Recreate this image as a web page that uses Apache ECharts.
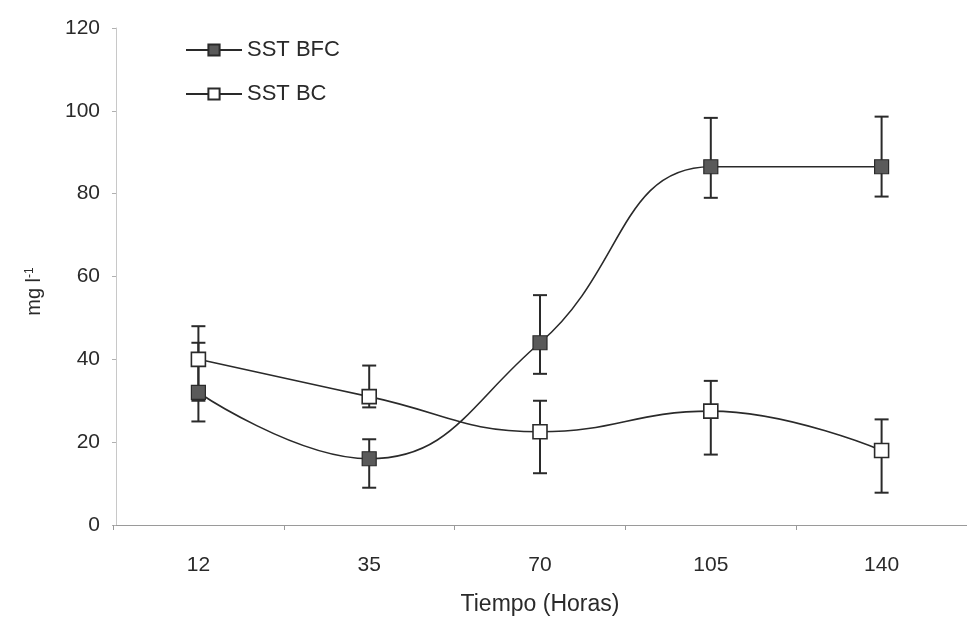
<!DOCTYPE html>
<html><head><meta charset="utf-8">
<script src="https://cdn.jsdelivr.net/npm/echarts@6/dist/echarts.min.js"></script>
<style>html,body{margin:0;padding:0;background:#fff}#c{width:967px;height:621px}</style>
</head><body><div id="c"></div>
<script>
const categories = ['12', '35', '70', '105', '140'];
const bfcValues = [32, 16, 44, 86.5, 86.5];
const bfcLow = [25, 9, 36.5, 79, 79.3];
const bfcHigh = [44, 20.7, 55.5, 98.3, 98.6];
const bcValues = [40, 31, 22.5, 27.5, 18];
const bcLow = [30, 28.4, 12.5, 17, 7.8];
const bcHigh = [48, 38.5, 30, 34.8, 25.5];

const chart = echarts.init(document.getElementById('c'));
const FONT = '"Liberation Sans", Arial, sans-serif';
const INK = '#2a2a2a';

function errData(low, high) { return categories.map((c, i) => [i, low[i], high[i]]); }
function errRender(params, api) {
  const x = api.value(0);
  const lo = api.coord([x, api.value(1)]);
  const hi = api.coord([x, api.value(2)]);
  const w = 7;
  const st = { stroke: INK, lineWidth: 2 };
  return { type: 'group', children: [
    { type: 'line', shape: { x1: lo[0], y1: lo[1], x2: hi[0], y2: hi[1] }, style: st },
    { type: 'line', shape: { x1: lo[0]-w, y1: lo[1], x2: lo[0]+w, y2: lo[1] }, style: st },
    { type: 'line', shape: { x1: hi[0]-w, y1: hi[1], x2: hi[0]+w, y2: hi[1] }, style: st }
  ]};
}

chart.setOption({
  backgroundColor: '#fff',
  animation: false,
  textStyle: { fontFamily: FONT },
  grid: { left: 113, width: 864, top: 28, bottom: 78 },
  legend: {
    orient: 'vertical', left: 180, top: 34, itemGap: 22, itemWidth: 56, itemHeight: 14,
    textStyle: { fontFamily: FONT, fontSize: 22, color: INK },
    data: ['SST BFC', 'SST BC']
  },
  xAxis: {
    type: 'category', data: categories, boundaryGap: true,
    name: 'Tiempo (Horas)', nameLocation: 'middle', nameGap: 68,
    nameTextStyle: { fontFamily: FONT, fontSize: 23, color: INK },
    axisLine: { lineStyle: { color: '#9a9a9a', width: 1 } },
    axisTick: { show: true, length: 5, lineStyle: { color: '#9a9a9a' } },
    axisLabel: { margin: 30, fontSize: 21, color: INK, fontFamily: FONT },
    splitLine: { show: false }
  },
  yAxis: {
    type: 'value', min: 0, max: 120, interval: 20, offset: -3,
    name: 'mg l{sup|-1}', nameLocation: 'middle', nameGap: 72, nameRotate: 90,
    nameTextStyle: { fontFamily: FONT, fontSize: 20, color: INK, padding: [0, 30, 0, 0],
      rich: { sup: { fontSize: 12, verticalAlign: 'top', padding: [0,0,8,0], color: INK, fontFamily: FONT } } },
    axisLine: { show: true, lineStyle: { color: '#c8c8c8', width: 1 } },
    axisTick: { show: true, length: 4, lineStyle: { color: '#b0b0b0' } },
    axisLabel: { margin: 16, fontSize: 21, color: INK, fontFamily: FONT },
    splitLine: { show: false }
  },
  series: [
    { name: 'SST BFC', type: 'line', data: bfcValues, smooth: 0.45,
      symbol: 'rect', symbolSize: 14, z: 5,
      lineStyle: { color: INK, width: 1.6 },
      itemStyle: { color: '#5a5a5a', borderColor: INK, borderWidth: 1.2 } },
    { name: 'SST BC', type: 'line', data: bcValues, smooth: 0.45,
      symbol: 'rect', symbolSize: 14, z: 5,
      lineStyle: { color: INK, width: 1.6 },
      itemStyle: { color: '#ffffff', borderColor: INK, borderWidth: 1.6 } },
    { type: 'custom', renderItem: errRender, data: errData(bfcLow, bfcHigh), z: 3, silent: true },
    { type: 'custom', renderItem: errRender, data: errData(bcLow, bcHigh), z: 3, silent: true }
  ]
});
</script></body></html>
